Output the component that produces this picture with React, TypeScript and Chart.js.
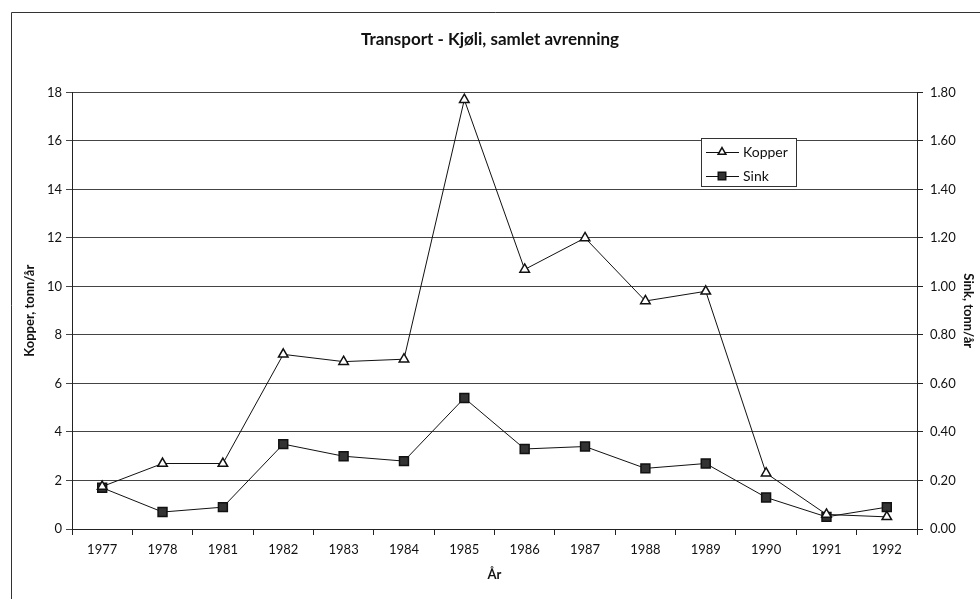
import React, { useEffect, useRef } from "react";
import { Chart, registerables } from "chart.js";

Chart.register(...registerables);

const categories = ["1977", "1978", "1981", "1982", "1983", "1984", "1985", "1986", "1987", "1988", "1989", "1990", "1991", "1992"];
const kopper = [1.75, 2.7, 2.7, 7.2, 6.9, 7.0, 17.7, 10.7, 12.0, 9.4, 9.8, 2.3, 0.6, 0.5];
const sink = [0.17, 0.07, 0.09, 0.35, 0.3, 0.28, 0.54, 0.33, 0.34, 0.25, 0.27, 0.13, 0.05, 0.09];
const leftMax = 18;
const rightMax = 1.8;
const titleText = "Transport - Kjøli, samlet avrenning";
const leftTitle = "Kopper, tonn/år";
const rightTitle = "Sink, tonn/år";
const xTitle = "År";

const FONT = "Lato, 'Noto Sans', sans-serif";

const framePlugin = {
  id: "frame",
  beforeDraw(chart: any) {
    const ctx = chart.ctx;
    ctx.save();
    ctx.fillStyle = "#fff";
    ctx.fillRect(0, 0, chart.width, chart.height);
    ctx.strokeStyle = "#333";
    ctx.lineWidth = 1;
    ctx.beginPath();
    ctx.moveTo(11.5, chart.height);
    ctx.lineTo(11.5, 12.5);
    ctx.lineTo(chart.width, 12.5);
    ctx.stroke();
    ctx.restore();
  },
};

function drawMarker(ctx: CanvasRenderingContext2D, style: string, x: number, y: number, r: number) {
  ctx.beginPath();
  if (style === "triangle") {
    ctx.moveTo(x, y - r);
    ctx.lineTo(x + r * Math.sin(Math.PI / 3), y + r / 2);
    ctx.lineTo(x - r * Math.sin(Math.PI / 3), y + r / 2);
    ctx.closePath();
  } else {
    const s = Math.SQRT1_2 * r;
    ctx.rect(x - s, y - s, 2 * s, 2 * s);
  }
  ctx.fill();
  ctx.stroke();
}

const legendPlugin = {
  id: "customLegend",
  afterDatasetsDraw(chart: any) {
    const ctx = chart.ctx;
    const x = 701, y = 138, w = 95, h = 48;
    ctx.save();
    ctx.fillStyle = "#fff";
    ctx.fillRect(x, y, w, h);
    ctx.strokeStyle = "#333";
    ctx.lineWidth = 1;
    ctx.strokeRect(x + 0.5, y + 0.5, w, h);
    const rows = [
      { label: "Kopper", ds: chart.data.datasets[0], cy: 152 },
      { label: "Sink", ds: chart.data.datasets[1], cy: 176 },
    ];
    for (const r of rows) {
      ctx.strokeStyle = "#111";
      ctx.lineWidth = 1;
      ctx.beginPath();
      ctx.moveTo(706, r.cy + 0.5);
      ctx.lineTo(739, r.cy + 0.5);
      ctx.stroke();
      ctx.fillStyle = r.ds.pointBackgroundColor;
      ctx.strokeStyle = r.ds.pointBorderColor;
      ctx.lineWidth = 1.5;
      drawMarker(ctx, r.ds.pointStyle, 722, r.cy, r.ds.pointRadius - 1);
      ctx.fillStyle = "#111";
      ctx.font = `14px ${FONT}`;
      ctx.textBaseline = "middle";
      ctx.textAlign = "left";
      ctx.fillText(r.label, 743, r.cy);
    }
    ctx.restore();
  },
};

export default function App() {
  const ref = useRef<HTMLCanvasElement | null>(null);
  useEffect(() => {
    if (!ref.current) return;
    const chart = new Chart(ref.current, {
      type: "line",
      data: {
        labels: categories,
        datasets: [
          {
            label: "Kopper",
            data: kopper,
            yAxisID: "y",
            borderColor: "#111",
            borderWidth: 1,
            pointStyle: "triangle",
            pointRadius: 5.5,
            pointBackgroundColor: "#fff",
            pointBorderColor: "#111",
            pointBorderWidth: 1.5,
            tension: 0,
          },
          {
            label: "Sink",
            data: sink,
            yAxisID: "y1",
            borderColor: "#111",
            borderWidth: 1,
            pointStyle: "rect",
            pointRadius: 6.3,
            pointBackgroundColor: "#333",
            pointBorderColor: "#111",
            pointBorderWidth: 1.5,
            tension: 0,
          },
        ],
      } as any,
      options: {
        animation: false,
        responsive: false,
        layout: { padding: { left: 0, right: 0, top: 0, bottom: 0 } },
        plugins: {
          legend: { display: false },
          tooltip: { enabled: false },
          title: {
            display: true,
            text: titleText,
            color: "#111",
            font: { family: FONT, size: 17, weight: "bold" },
            padding: { top: 29, bottom: 43 },
          },
        },
        scales: {
          x: {
            type: "category",
            offset: true,
            grid: {
              offset: true,
              drawOnChartArea: false,
              drawTicks: true,
              tickLength: 6,
              color: "#222",
            },
            border: { display: true, color: "#222" },
            ticks: { color: "#111", font: { family: FONT, size: 13 }, padding: 7, maxRotation: 0, autoSkip: false },
            title: {
              display: true,
              text: xTitle,
              color: "#111",
              font: { family: FONT, size: 13, weight: "bold" },
              padding: { top: 0, bottom: 16 },
            },
            afterFit(scale: any) {
              scale.height = 70;
            },
          },
          y: {
            position: "left",
            min: 0,
            max: leftMax,
            ticks: { stepSize: 2, color: "#111", font: { family: FONT, size: 13 }, padding: 4 },
            grid: { drawOnChartArea: true, tickLength: 6, color: "#444" },
            border: { display: true, color: "#222" },
            title: {
              display: true,
              text: leftTitle,
              color: "#111",
              font: { family: FONT, size: 13, weight: "bold" },
              padding: { top: 22, bottom: 0 },
            },
            afterFit(scale: any) {
              scale.width = 72;
            },
          },
          y1: {
            position: "right",
            min: 0,
            max: rightMax,
            ticks: {
              stepSize: 0.2,
              color: "#111",
              font: { family: FONT, size: 13 },
              padding: 7,
              callback: (v: any) => Number(v).toFixed(2),
            },
            grid: { drawOnChartArea: false, tickLength: 6, color: "#222" },
            border: { display: true, color: "#222" },
            title: {
              display: true,
              text: rightTitle,
              color: "#111",
              font: { family: FONT, size: 13, weight: "bold" },
              padding: { top: 4, bottom: 0 },
            },
            afterFit(scale: any) {
              scale.width = 63;
            },
          },
        },
      } as any,
      plugins: [framePlugin, legendPlugin],
    });
    return () => chart.destroy();
  }, []);
  return (
    <div style={{ position: "fixed", left: 0, top: 0, width: 980, height: 599, background: "#fff" }}>
      <canvas ref={ref} width={980} height={599} />
    </div>
  );
}
